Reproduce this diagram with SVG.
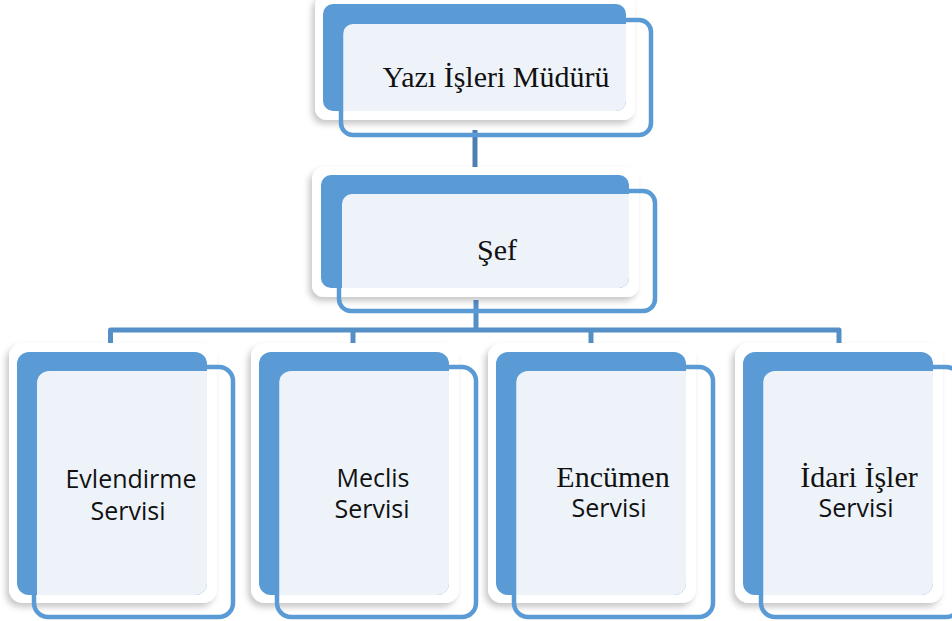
<svg xmlns="http://www.w3.org/2000/svg" width="952" height="621" viewBox="0 0 952 621">
<defs>
<filter id="sh" x="-10%" y="-10%" width="120%" height="125%">
<feDropShadow dx="-3" dy="4" stdDeviation="3" flood-color="#000" flood-opacity="0.22"/>
</filter>
</defs>
<style>
.halo{fill:#fff;filter:url(#sh)}
.blue{fill:#5B9BD5}
.light{fill:#EEF3FA}
.outl{fill:none;stroke:#5B9BD5;stroke-width:4.5}
.conn{fill:none;stroke:#548FC8;stroke-width:5;stroke-linejoin:round}
.serif{font-family:"Liberation Serif","Times New Roman",serif;font-size:30px;fill:#111;text-anchor:middle}
.sans{font-family:"Open Sans","Noto Sans",sans-serif;font-size:25px;fill:#111;text-anchor:middle}
</style>
<g id="connectors">
<line class="conn" x1="475" y1="130" x2="475" y2="180" style="stroke:#4C80B3"/>
<line class="conn" x1="476" y1="300" x2="476" y2="330"/>
<path class="conn" d="M110.5,345 V330 H839 V345"/>
<line class="conn" x1="353" y1="330" x2="353" y2="345"/>
<line class="conn" x1="591" y1="330" x2="591" y2="345"/>
</g>
<g id="n-mudur">
<rect class="halo" x="315" y="-6" width="320" height="126" rx="12"/>
<rect class="blue" x="323" y="4" width="303" height="107" rx="10"/>
<path class="light" d="M353,24 H626 V101 A10,10 0 0 1 616,111 H343 V34 A10,10 0 0 1 353,24 Z"/>
<rect class="outl" x="341" y="20" width="310" height="115" rx="12"/>
<text class="serif" x="496" y="87">Yazı İşleri Müdürü</text>
</g>
<g id="n-sef">
<rect class="halo" x="312" y="167" width="327" height="130" rx="12"/>
<rect class="blue" x="321" y="175" width="308" height="113" rx="10"/>
<path class="light" d="M352,194 H629 V278 A10,10 0 0 1 619,288 H342 V204 A10,10 0 0 1 352,194 Z"/>
<rect class="outl" x="339" y="191" width="316" height="120" rx="12"/>
<text class="serif" x="497" y="260">Şef</text>
</g>
<g id="n-evlendirme">
<rect class="halo" x="9" y="343" width="208" height="260" rx="14"/>
<rect class="blue" x="17" y="352" width="190" height="243" rx="12"/>
<path class="light" d="M49,371 H207 V583 A12,12 0 0 1 195,595 H37 V383 A12,12 0 0 1 49,371 Z"/>
<rect class="outl" x="34" y="367" width="199" height="250" rx="14"/>
<text class="sans" x="131" y="488">Evlendirme</text>
<text class="sans" x="128" y="520">Servisi</text>
</g>
<g id="n-meclis">
<rect class="halo" x="251" y="343" width="208" height="260" rx="14"/>
<rect class="blue" x="259" y="352" width="190" height="243" rx="12"/>
<path class="light" d="M291,371 H449 V583 A12,12 0 0 1 437,595 H279 V383 A12,12 0 0 1 291,371 Z"/>
<rect class="outl" x="277" y="367" width="199" height="250" rx="14"/>
<text class="sans" x="373" y="487">Meclis</text>
<text class="sans" x="372" y="518">Servisi</text>
</g>
<g id="n-encumen">
<rect class="halo" x="488" y="343" width="208" height="260" rx="14"/>
<rect class="blue" x="496" y="352" width="190" height="243" rx="12"/>
<path class="light" d="M528,371 H686 V583 A12,12 0 0 1 674,595 H516 V383 A12,12 0 0 1 528,371 Z"/>
<rect class="outl" x="514" y="367" width="199" height="250" rx="14"/>
<text class="serif" x="613" y="487">Encümen</text>
<text class="sans" x="609" y="517">Servisi</text>
</g>
<g id="n-idari">
<rect class="halo" x="735" y="343" width="208" height="260" rx="14"/>
<rect class="blue" x="743" y="352" width="190" height="243" rx="12"/>
<path class="light" d="M775,371 H933 V583 A12,12 0 0 1 921,595 H763 V383 A12,12 0 0 1 775,371 Z"/>
<rect class="outl" x="761" y="367" width="199" height="250" rx="14"/>
<text class="serif" x="859" y="487">İdari İşler</text>
<text class="sans" x="856" y="517">Servisi</text>
</g>
</svg>
